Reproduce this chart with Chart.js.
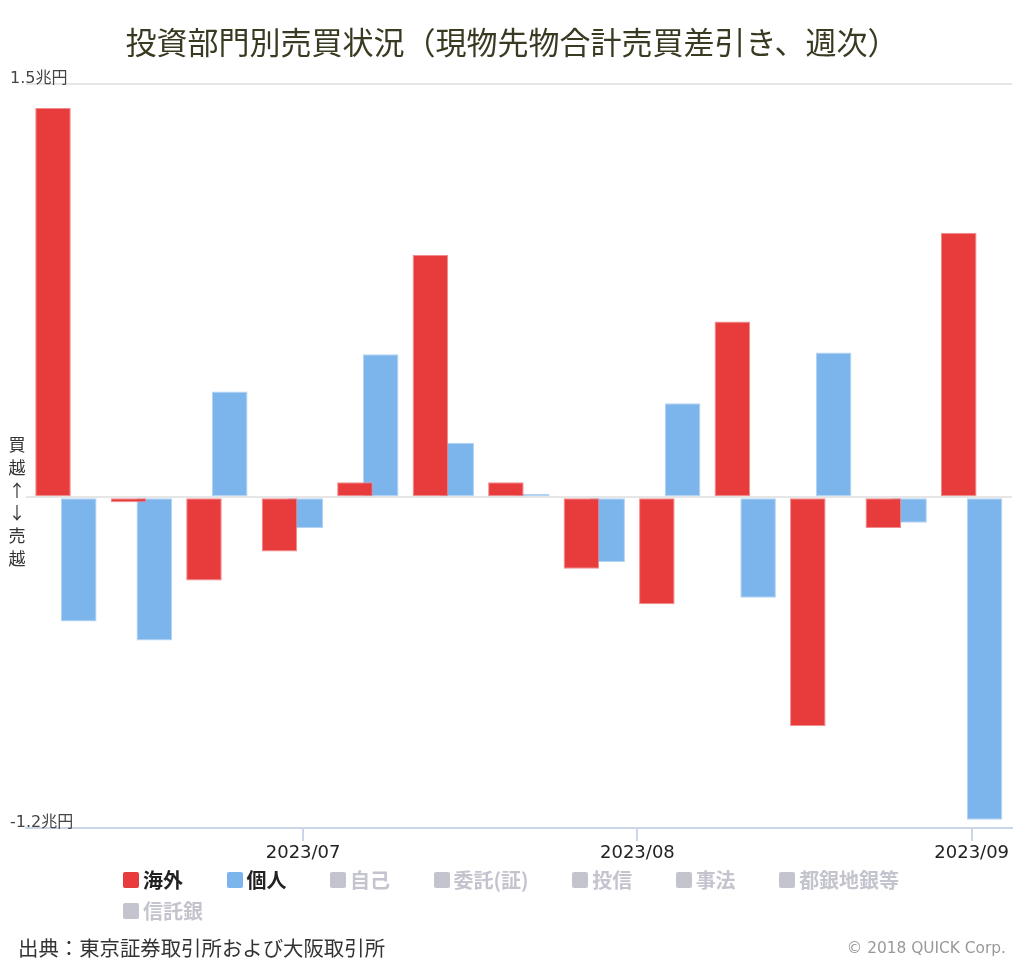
<!DOCTYPE html>
<html lang="ja">
<head>
<meta charset="utf-8">
<title>投資部門別売買状況</title>
<script src="https://cdn.jsdelivr.net/npm/chart.js@4.4.1/dist/chart.umd.min.js"></script>
<style>
  html, body { margin: 0; padding: 0; background: #fff; }
  #wrap { position: relative; width: 1024px; height: 964px; overflow: hidden; font-family: "Noto Sans CJK JP", sans-serif; }
  #chart { position: absolute; left: 0; top: 0; }
  #title { position: absolute; left: 0; top: 19px; width: 1024px; text-align: center; font-size: 31px; line-height: 44px; color: #3a3a22; white-space: nowrap; }
  #yNote { position: absolute; left: 8px; top: 433px; width: 18px; font-size: 17px; line-height: 22.8px; color: #333; text-align: center; }
  #legend { position: absolute; left: 123px; top: 864px; width: 840px; display: flex; flex-wrap: wrap; }
  .item { display: flex; align-items: center; height: 31px; margin-right: 43.5px; font-size: 20px; font-weight: bold; color: #222; white-space: nowrap; }
  .item i { display: inline-block; width: 16px; height: 16px; border-radius: 2px; margin-right: 4px; }
  .item.off { color: #c4c4cf; }
  #source { position: absolute; left: 18px; top: 933px; font-size: 20.4px; line-height: 28px; color: #333; }
  #copy { position: absolute; right: 18px; top: 937px; font-family: "DejaVu Sans", sans-serif; font-size: 15.4px; line-height: 22px; color: #999; }
</style>
</head>
<body>
<div id="wrap">
  <canvas id="chart" width="1024" height="964"></canvas>
  <div id="title">投資部門別売買状況（現物先物合計売買差引き、週次）</div>
  <div id="yNote">買<br>越<br>↑<br>↓<br>売<br>越</div>
  <div id="legend"></div>
  <div id="source">出典：東京証券取引所および大阪取引所</div>
  <div id="copy">© 2018 QUICK Corp.</div>
</div>
<script>
// weekly net buy/sell, 兆円
const weekDates = ['2023-06-09', '2023-06-16', '2023-06-23', '2023-06-30', '2023-07-07', '2023-07-14',
  '2023-07-21', '2023-07-28', '2023-08-04', '2023-08-11', '2023-08-18', '2023-08-25', '2023-09-01'];
const foreignValues = [1.413, -0.018, -0.302, -0.197, 0.055, 0.879, 0.055, -0.259, -0.388, 0.638, -0.830, -0.111, 0.960];
const individualValues = [-0.451, -0.520, 0.384, -0.111, 0.519, 0.198, 0.012, -0.235, 0.341, -0.364, 0.526, -0.092, -1.170];

const monthTickDates = ['2023-07-01', '2023-08-01', '2023-09-01'];
const monthTickLabels = ['2023/07', '2023/08', '2023/09'];
const yTickValues = [-1.2, 0, 1.5];
const yTickLabels = ['-1.2兆円', '', '1.5兆円'];

const seriesNames = ['海外', '個人'];
const seriesColors = ['#e83b3c', '#7cb5ec'];
const hiddenSeriesNames = ['自己', '委託(証)', '投信', '事法', '都銀地銀等', '信託銀'];

const dayOf = s => (Date.parse(s) - Date.parse('2023-07-01')) / 86400000;
const tickDays = monthTickDates.map(dayOf);
const latin = '"DejaVu Sans", "Noto Sans CJK JP", sans-serif';

function barSet(i, values, edge) {
  return {
    label: seriesNames[i],
    data: weekDates.map((d, k) => ({ x: dayOf(d), y: values[k] })),
    backgroundColor: seriesColors[i],
    borderColor: edge,
    borderWidth: 1,
    borderSkipped: false,
    categoryPercentage: 0.683,
    barPercentage: 1.38
  };
}

new Chart(document.getElementById('chart'), {
  type: 'bar',
  data: {
    datasets: [
      barSet(0, foreignValues, '#f08c8d'),
      barSet(1, individualValues, '#b3d3f3')
    ]
  },
  options: {
    responsive: false,
    animation: false,
    devicePixelRatio: 1,
    layout: { padding: { top: 84, left: 10, right: 12, bottom: 96 } },
    plugins: { legend: { display: false }, tooltip: { enabled: false } },
    scales: {
      x: {
        type: 'linear', min: -25.7, max: 65.74, offset: false,
        afterFit: s => { s.height = 40; },
        afterBuildTicks: s => { s.ticks = tickDays.map(v => ({ value: v })); },
        grid: { drawOnChartArea: false, drawTicks: true, tickLength: 13, color: '#ccd6eb', lineWidth: 2, offset: false },
        border: { display: true, color: '#ccd6eb', width: 2 },
        ticks: {
          autoSkip: false, maxRotation: 0, padding: 2, color: '#222',
          font: { family: latin, size: 18 },
          callback: (v, i) => monthTickLabels[i]
        }
      },
      y: {
        min: -1.2, max: 1.5,
        afterFit: s => { s.width = 16; },
        afterBuildTicks: s => { s.ticks = yTickValues.map(v => ({ value: v })); },
        grid: {
          drawTicks: false, lineWidth: 2,
          color: c => (c.tick && c.tick.value === -1.2) ? 'rgba(0,0,0,0)' : '#e6e6e6'
        },
        border: { display: false },
        ticks: {
          mirror: true, padding: -16, labelOffset: -5, color: '#444',
          font: { family: latin, size: 16 },
          callback: (v, i) => yTickLabels[i]
        }
      }
    }
  }
});

// legend: shown series first, then the switched-off ones in grey
const legend = document.getElementById('legend');
seriesNames.map((n, i) => ({ name: n, color: seriesColors[i], on: true }))
  .concat(hiddenSeriesNames.map(n => ({ name: n, color: '#c4c4cf', on: false })))
  .forEach(it => {
    const el = document.createElement('div');
    el.className = 'item' + (it.on ? '' : ' off');
    el.innerHTML = '<i style="background:' + it.color + '"></i>' + it.name;
    legend.appendChild(el);
  });
</script>
</body>
</html>
